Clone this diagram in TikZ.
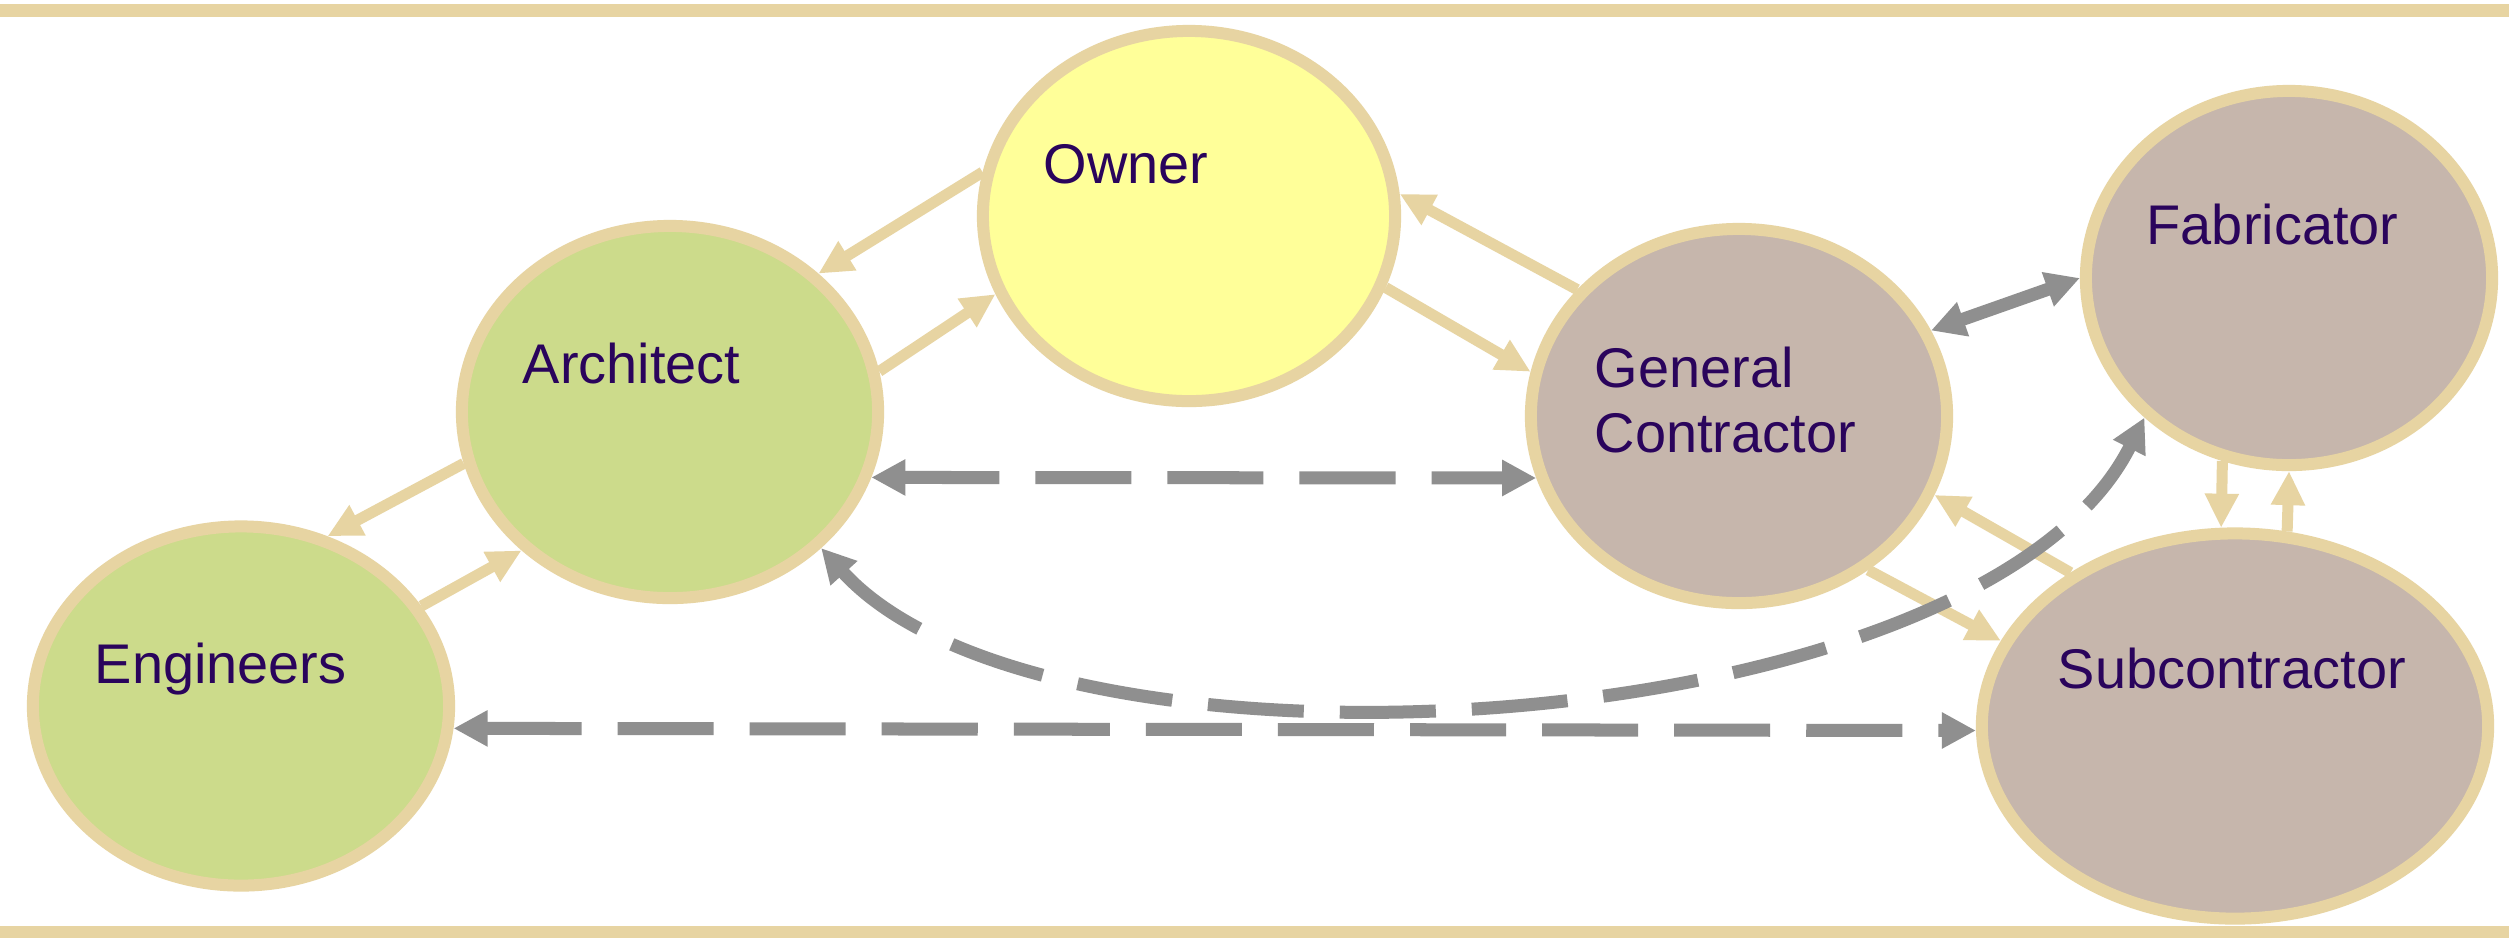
\documentclass[tikz,border=0pt]{standalone}
\usepackage{fontspec}
\setmainfont{Liberation Sans}
\usetikzlibrary{arrows.meta,shapes.geometric}

\definecolor{tanline}{RGB}{231,212,162}
\definecolor{owneryellow}{RGB}{255,255,153}
\definecolor{designgreen}{RGB}{204,219,139}
\definecolor{buildtaupe}{RGB}{198,182,172}
\definecolor{linkgray}{RGB}{143,143,143}
\definecolor{labelpurple}{RGB}{42,4,92}

\tikzset{
  party/.style={ellipse, draw=tanline, line width=0.12cm, inner sep=0pt},
  lbl/.style={text=labelpurple, inner sep=0pt, anchor=base west,
              font=\fontsize{15.9}{18.6}\selectfont},
  tanarrow/.style={draw=tanline, line width=0.11cm,
                   -{Triangle[length=0.34cm, width=0.32cm]}},
  grayarrow/.style={draw=linkgray, line width=0.13cm,
                    dash pattern=on 0.96cm off 0.36cm,
                    {Triangle[length=0.34cm, width=0.34cm]}-{Triangle[length=0.34cm, width=0.34cm]}}
}

\begin{document}
\begin{tikzpicture}[x=0.01cm, y=-0.01cm]
  \useasboundingbox (0,0) rectangle (2509,944);
  \fill[white] (0,0) rectangle (2509,944);

  % frame bands
  \fill[tanline] (0,4) rectangle (2509,17);
  \fill[tanline] (0,926) rectangle (2509,938);

  % parties
  \node[party, fill=owneryellow, minimum width=4.12cm, minimum height=3.70cm] (owner) at (1189,216) {};
  \node[party, fill=designgreen, minimum width=4.16cm, minimum height=3.72cm] (arch) at (670,412) {};
  \node[party, fill=designgreen, minimum width=4.16cm, minimum height=3.59cm] (eng) at (241,706) {};
  \node[party, fill=buildtaupe, minimum width=4.16cm, minimum height=3.74cm] (gc) at (1739,416) {};
  \node[party, fill=buildtaupe, minimum width=4.06cm, minimum height=3.74cm] (fab) at (2289,278) {};
  \node[party, fill=buildtaupe, minimum width=5.06cm, minimum height=3.85cm] (sub) at (2235,726) {};

  % labels
  \node[lbl] (owner-t) at (1043,183) {Owner};
  \node[lbl] (arch-t) at (522,383) {Architect};
  \node[lbl] (eng-t) at (94,683) {Engineers};
  \node[lbl] (gc-t) at (1594,387) {\begin{tabular}[t]{@{}l@{}}General\\Contractor\end{tabular}};
  \node[lbl] (fab-t) at (2146,244) {Fabricator};
  \node[lbl] (sub-t) at (2057,688) {Subcontractor};

  % contractual links
  \draw[tanarrow] (owner.168) -- (arch.43);
  \draw[tanarrow] (arch.11) -- (owner.202);
  \draw[tanarrow] (gc.142) -- (owner.6);
  \draw[tanarrow] (owner.-20) -- (gc.168);
  \draw[tanarrow] (arch.194) -- (eng.63);
  \draw[tanarrow] (eng.29) -- (arch.223);
  \draw[tanarrow] (gc.-50) -- (sub.160);
  \draw[tanarrow] (sub.137) -- (gc.-22);
  \draw[tanarrow] (fab.250) -- (sub.94);
  \draw[tanarrow] (sub.75) -- (fab.270);

  % communication links
  \draw[grayarrow] (arch.-18) -- (gc.197);
  \draw[grayarrow] (eng.-6.5) -- (sub.181);
  \draw[grayarrow] (gc.24) -- (fab.180);
  \draw[grayarrow] (arch.-42) .. controls (1050,800) and (1980,745) .. (fab.224);
\end{tikzpicture}
\end{document}
